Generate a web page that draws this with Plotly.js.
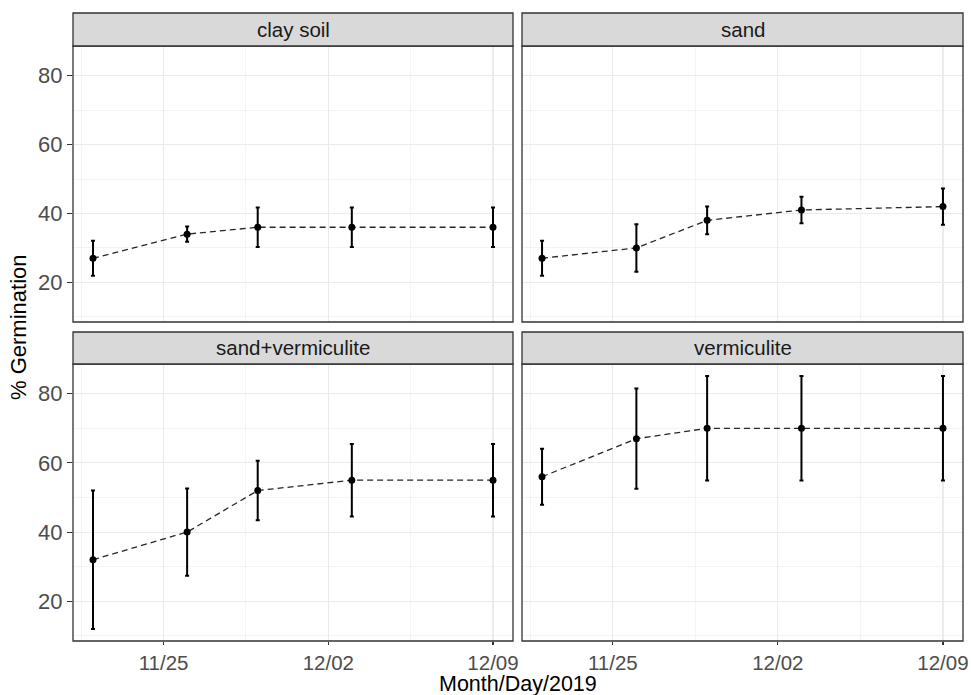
<!DOCTYPE html>
<html>
<head>
<meta charset="utf-8">
<script src="https://cdn.plot.ly/plotly-3.0.1.min.js"></script>
<style>html,body{margin:0;padding:0;background:#fff;}#chart{width:971px;height:695px;}</style>
</head>
<body>
<div id="chart"></div>
<script>
// ---- data ----
const dates = ['2019-11-22', '2019-11-26', '2019-11-29', '2019-12-03', '2019-12-09'];
const panelNames = ['clay soil', 'sand', 'sand+vermiculite', 'vermiculite'];
const claySoil = [27, 34, 36, 36, 36];
const claySoilErr = [5.1, 2.2, 5.7, 5.7, 5.7];
const sand = [27, 30, 38, 41, 42];
const sandErr = [5.1, 6.9, 4.0, 3.85, 5.25];
const sandVerm = [32, 40, 52, 55, 55];
const sandVermErr = [20, 12.6, 8.6, 10.5, 10.5];
const verm = [56, 67, 70, 70, 70];
const vermErr = [8.1, 14.5, 15.1, 15.1, 15.1];
const xTickVals = ['2019-11-25', '2019-12-02', '2019-12-09'];
const xTickText = ['11/25', '12/02', '12/09'];
const xMinorVals = ['2019-11-21 12:00', '2019-11-28 12:00', '2019-12-05 12:00'];
const yTickVals = [20, 40, 60, 80];
const yTickText = ['20', '40', '60', '80'];
const yMinorVals = [10, 30, 50, 70];
const xTitle = 'Month/Day/2019';
const yTitle = '% Germination';

// ---- layout geometry (pixels) ----
const W = 971, H = 695;
const colX = [[73, 513], [522, 963]];
const rowPlot = [[46, 322], [364, 641]];
const rowStrip = [[13, 46], [332, 364]];
const px = v => v / W;
const py = v => 1 - v / H;

const FONT = 'Liberation Sans, Arial, sans-serif';
const seriesVals = [claySoil, sand, sandVerm, verm];
const seriesErr = [claySoilErr, sandErr, sandVermErr, vermErr];

const traces = [];
const layout = {
  width: W, height: H,
  margin: {l: 0, r: 0, t: 0, b: 0},
  paper_bgcolor: '#ffffff', plot_bgcolor: '#ffffff',
  showlegend: false,
  font: {family: FONT},
  shapes: [], annotations: []
};

for (let i = 0; i < 4; i++) {
  const r = Math.floor(i / 2), c = i % 2;
  const n = i + 1;
  const xa = 'xaxis' + (n === 1 ? '' : n), ya = 'yaxis' + (n === 1 ? '' : n);
  const xr = 'x' + (n === 1 ? '' : n), yr = 'y' + (n === 1 ? '' : n);
  traces.push({
    type: 'scatter', mode: 'lines+markers',
    x: dates, y: seriesVals[i],
    xaxis: xr, yaxis: yr,
    line: {color: '#262626', width: 1.3, dash: '6px,4px'},
    marker: {color: '#000000', size: 7},
    error_y: {type: 'data', array: seriesErr[i], visible: true, color: '#000000', thickness: 2, width: 2},
    hoverinfo: 'skip'
  });
  layout[xa] = {
    domain: [px(colX[c][0]), px(colX[c][1])],
    anchor: yr, type: 'date',
    range: ['2019-11-21 03:36', '2019-12-09 20:24'],
    tickmode: 'array', tickvals: xTickVals, ticktext: xTickText,
    showticklabels: r === 1,
    ticks: r === 1 ? 'outside' : '', ticklen: 3, tickwidth: 1.1, tickcolor: '#333333',
    tickfont: {family: FONT, size: 20.5, color: '#4d4d4d'},
    showgrid: true, gridcolor: '#ebebeb', gridwidth: 1.1,
    minor: {tickmode: 'array', tickvals: xMinorVals, showgrid: true, gridcolor: '#f0f0f0', gridwidth: 0.7, ticks: ''},
    zeroline: false, showline: false, fixedrange: true
  };
  layout[ya] = {
    domain: [py(rowPlot[r][1]), py(rowPlot[r][0])],
    anchor: xr,
    range: [8.5, 88.6],
    tickmode: 'array', tickvals: yTickVals, ticktext: yTickText,
    showticklabels: c === 0,
    ticks: c === 0 ? 'outside' : '', ticklen: 5, tickwidth: 1.1, tickcolor: '#333333',
    tickfont: {family: FONT, size: 22, color: '#4d4d4d'},
    showgrid: true, gridcolor: '#ebebeb', gridwidth: 1.1,
    minor: {tickmode: 'array', tickvals: yMinorVals, showgrid: true, gridcolor: '#f0f0f0', gridwidth: 0.7, ticks: ''},
    zeroline: false, showline: false, fixedrange: true
  };
  // panel border
  layout.shapes.push({
    type: 'rect', xref: xr + ' domain', yref: yr + ' domain',
    x0: 0, x1: 1, y0: 0, y1: 1,
    line: {color: '#333333', width: 1.3}, fillcolor: 'rgba(0,0,0,0)', layer: 'above'
  });
  // strip
  layout.shapes.push({
    type: 'rect', xref: 'paper', yref: 'paper',
    x0: px(colX[c][0]), x1: px(colX[c][1]),
    y0: py(rowStrip[r][1]), y1: py(rowStrip[r][0]),
    line: {color: '#333333', width: 1.3}, fillcolor: '#d9d9d9', layer: 'above'
  });
  layout.annotations.push({
    xref: 'paper', yref: 'paper',
    x: px((colX[c][0] + colX[c][1]) / 2), y: py((rowStrip[r][0] + rowStrip[r][1]) / 2),
    xanchor: 'center', yanchor: 'middle', showarrow: false,
    text: panelNames[i], font: {family: FONT, size: 20.5, color: '#1a1a1a'}
  });
}

layout.annotations.push({
  xref: 'paper', yref: 'paper', x: px(518), y: py(684),
  xanchor: 'center', yanchor: 'middle', showarrow: false,
  text: xTitle, font: {family: FONT, size: 21.5, color: '#000000'}
});
layout.annotations.push({
  xref: 'paper', yref: 'paper', x: px(18), y: py(327),
  xanchor: 'center', yanchor: 'middle', showarrow: false, textangle: -90,
  text: yTitle, font: {family: FONT, size: 22, color: '#000000'}
});

Plotly.newPlot('chart', traces, layout, {staticPlot: true, displayModeBar: false});
</script>
</body>
</html>
